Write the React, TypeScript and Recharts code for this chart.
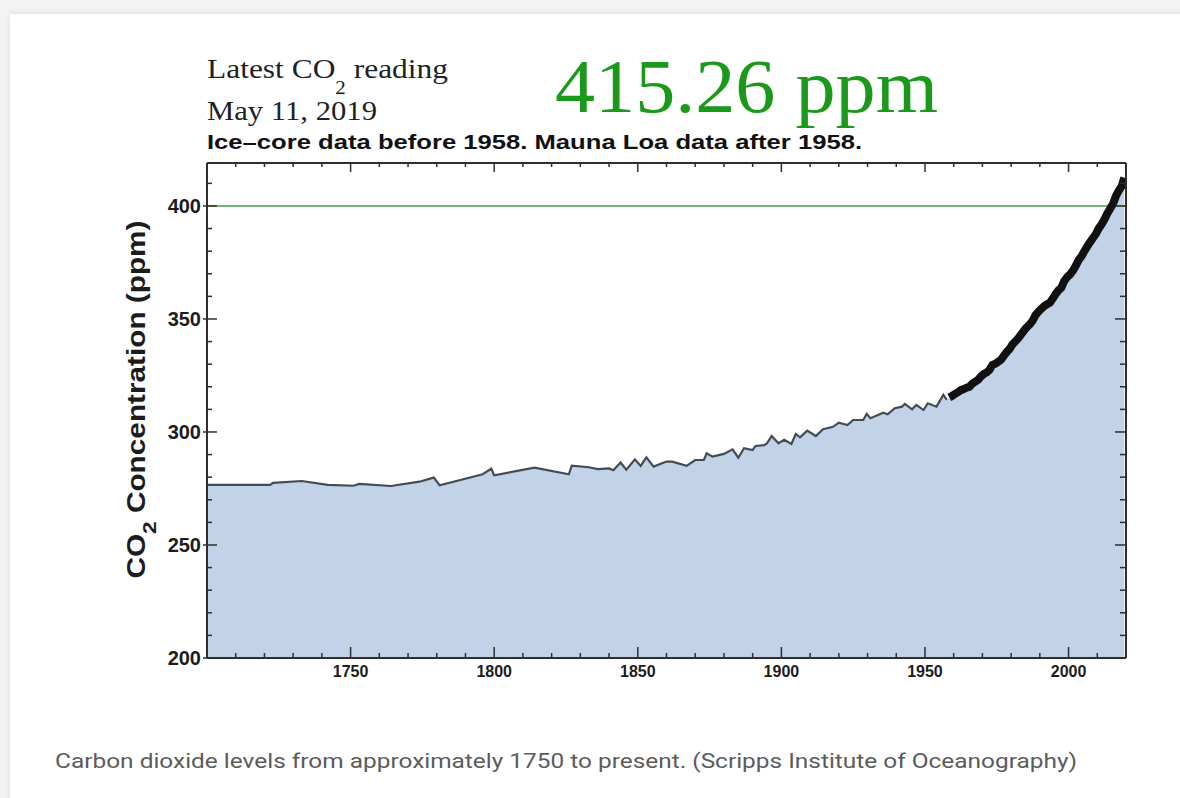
import React from 'react';
import { ComposedChart, Area, Line, XAxis, YAxis, ReferenceLine } from 'recharts';

// Ice-core record, year / ppm
const iceYears = [
  1700, 1722, 1723, 1733, 1742, 1751, 1753, 1764, 1774, 1779,
  1781, 1796, 1799, 1800, 1814, 1826, 1827, 1833, 1836, 1840,
  1841.5, 1844, 1846, 1849, 1851, 1853, 1855.5, 1860, 1862, 1867,
  1870, 1873, 1874, 1876, 1880, 1883, 1885, 1887, 1890, 1891,
  1894, 1895, 1896.6, 1899, 1901, 1903.5, 1905, 1906.5, 1909, 1912,
  1914.5, 1918, 1920, 1923, 1925, 1928.5, 1929.7, 1931, 1935.5, 1937,
  1939.5, 1942, 1943, 1945.5, 1947, 1949.5, 1951, 1954, 1956.4, 1957.6,
];
const icePpm = [
  276.6, 276.6, 277.5, 278.3, 276.6, 276.2, 277.0, 276.1, 278.0, 279.8,
  276.4, 281.3, 283.8, 280.8, 284.2, 281.3, 285.1, 284.4, 283.6, 283.9,
  283.1, 286.5, 283.3, 287.9, 285.0, 288.8, 284.7, 286.9, 286.9, 285.0,
  287.6, 287.6, 290.6, 289.1, 290.3, 292.3, 288.6, 292.8, 292.0, 293.8,
  294.2, 295.0, 298.2, 295.0, 296.5, 294.7, 299.1, 297.6, 300.6, 298.2,
  301.2, 302.3, 304.1, 303.1, 305.3, 305.3, 308.0, 306.1, 308.5, 307.8,
  310.5, 311.2, 312.4, 310.0, 312.0, 309.7, 312.7, 311.2, 316.4, 314.2,
];

// Mauna Loa yearly levels
const mloYears = [
  1958.5, 1959.5,
  1960.5, 1961.5, 1962.5, 1963.5, 1964.5, 1965.5, 1966.5, 1967.5, 1968.5, 1969.5,
  1970.5, 1971.5, 1972.5, 1973.5, 1974.5, 1975.5, 1976.5, 1977.5, 1978.5, 1979.5,
  1980.5, 1981.5, 1982.5, 1983.5, 1984.5, 1985.5, 1986.5, 1987.5, 1988.5, 1989.5,
  1990.5, 1991.5, 1992.5, 1993.5, 1994.5, 1995.5, 1996.5, 1997.5, 1998.5, 1999.5,
  2000.5, 2001.5, 2002.5, 2003.5, 2004.5, 2005.5, 2006.5, 2007.5, 2008.5, 2009.5,
  2010.5, 2011.5, 2012.5, 2013.5, 2014.5, 2015.5, 2016.5, 2017.5, 2018.5, 2019.4,
];
const mloPpm = [
  315.3, 316.0,
  316.9, 317.6, 318.5, 319.0, 319.6, 320.0, 321.4, 322.2, 323.1, 324.6,
  325.7, 326.3, 327.5, 329.7, 330.2, 331.1, 332.0, 333.8, 335.4, 336.8,
  338.8, 340.1, 341.5, 343.2, 344.9, 346.4, 347.6, 349.3, 351.7, 353.2,
  354.5, 355.7, 356.5, 357.2, 359.0, 361.0, 362.7, 363.9, 366.8, 368.5,
  369.7, 371.3, 373.5, 376.0, 377.7, 380.0, 382.1, 384.0, 385.8, 387.6,
  390.1, 391.9, 394.1, 396.7, 398.8, 401.0, 404.4, 406.8, 408.7, 412.5,
];

const xTicks = [
  1710, 1720, 1730, 1740, 1750, 1760, 1770, 1780, 1790, 1800,
  1810, 1820, 1830, 1840, 1850, 1860, 1870, 1880, 1890, 1900,
  1910, 1920, 1930, 1940, 1950, 1960, 1970, 1980, 1990, 2000, 2010,
];
const yTicks = [
  200, 210, 220, 230, 240, 250, 260, 270, 280, 290, 300,
  310, 320, 330, 340, 350, 360, 370, 380, 390, 400, 410,
];

const AXIS = '#2e2e2e';
const FILL = '#c3d3e7';
const SANS = '"Liberation Sans", Arial, Helvetica, sans-serif';
const SERIF = '"Liberation Serif", "Times New Roman", serif';

interface Row {
  year: number;
  level: number;
  ice?: number;
  mlo?: number;
}

const rows: Row[] = [
  ...iceYears.map((year, i) => ({ year, level: icePpm[i], ice: icePpm[i] })),
  ...mloYears.map((year, i) => ({ year, level: mloPpm[i], mlo: mloPpm[i] })),
];

const isMajor = (v: number) => v % 50 === 0;

function BottomTick({ x, y, payload }: any) {
  const major = isMajor(payload.value);
  return (
    <g>
      <line x1={x} x2={x} y1={y} y2={y - (major ? 11 : 5)} stroke={AXIS} strokeWidth={1.5} />
      {major && (
        <text x={x} y={y + 8} dy="0.71em" textAnchor="middle" fontSize={16} fontWeight="bold" fontFamily={SANS} fill="#1c1c1c">
          {payload.value}
        </text>
      )}
    </g>
  );
}

function TopTick({ x, y, payload }: any) {
  const major = isMajor(payload.value);
  return <line x1={x} x2={x} y1={y} y2={y + (major ? 9 : 4)} stroke={AXIS} strokeWidth={1.5} />;
}

function LeftTick({ x, y, payload }: any) {
  const major = isMajor(payload.value);
  return (
    <g>
      <line x1={major ? x - 4 : x} x2={x + (major ? 10 : 5)} y1={y} y2={y} stroke={AXIS} strokeWidth={1.5} />
      {major && (
        <text x={x - 6} y={y} dy="0.36em" textAnchor="end" fontSize={20} fontWeight="bold" fontFamily={SANS} fill="#1c1c1c">
          {payload.value}
        </text>
      )}
    </g>
  );
}

function RightTick({ x, y, payload }: any) {
  const major = isMajor(payload.value);
  return <line x1={x} x2={x - (major ? 11 : 6)} y1={y} y2={y} stroke={AXIS} strokeWidth={1.5} />;
}

function YLabel({ viewBox }: any) {
  const cx = viewBox.x + 38;
  const cy = viewBox.y + viewBox.height / 2 - 11;
  return (
    <text
      x={cx}
      y={cy}
      transform={`rotate(-90 ${cx} ${cy})`}
      textAnchor="middle"
      fontSize={25}
      fontWeight="bold"
      fontFamily={SANS}
      fill="#1c1c1c"
      textLength={358}
      lengthAdjust="spacingAndGlyphs"
    >
      CO<tspan dy={11} fontSize={19}>2</tspan>
      <tspan dy={-11}> Concentration (ppm)</tspan>
    </text>
  );
}

export default function App() {
  return (
    <div style={{ position: 'absolute', left: 0, top: 0, width: 1180, height: 798, background: '#f3f3f3', overflow: 'hidden' }}>
      <div
        style={{
          position: 'absolute', left: 10, top: 14, width: 1200, height: 820,
          background: '#fff', boxShadow: '0 0 7px rgba(0,0,0,0.10)',
        }}
      />
      <div style={{ position: 'absolute', left: 0, top: 0 }}>
        <ComposedChart
          width={1180}
          height={700}
          data={rows}
          margin={{ top: 162, right: 53, bottom: 12, left: 107 }}
        >
          <XAxis
            dataKey="year"
            type="number"
            domain={[1700, 2020]}
            ticks={xTicks}
            interval={0}
            height={30}
            tickSize={0}
            tickMargin={0}
            tickLine={false}
            axisLine={{ stroke: AXIS, strokeWidth: 2 }}
            tick={<BottomTick />}
            allowDataOverflow
          />
          {/* mirrored frame axes: 1px thick so they still render */}
          <XAxis
            xAxisId="top"
            orientation="top"
            dataKey="year"
            type="number"
            domain={[1700, 2020]}
            ticks={xTicks}
            interval={0}
            height={1}
            tickSize={0}
            tickMargin={0}
            tickLine={false}
            axisLine={{ stroke: AXIS, strokeWidth: 2 }}
            tick={<TopTick />}
            allowDataOverflow
          />
          <YAxis
            type="number"
            domain={[200, 419]}
            ticks={yTicks}
            interval={0}
            width={100}
            tickSize={0}
            tickMargin={0}
            tickLine={false}
            axisLine={{ stroke: AXIS, strokeWidth: 2 }}
            tick={<LeftTick />}
            label={<YLabel />}
            allowDataOverflow
          />
          <YAxis
            yAxisId="right"
            orientation="right"
            type="number"
            domain={[200, 419]}
            ticks={yTicks}
            interval={0}
            width={1}
            tickSize={0}
            tickMargin={0}
            tickLine={false}
            axisLine={{ stroke: AXIS, strokeWidth: 2 }}
            tick={<RightTick />}
            allowDataOverflow
          />
          <Area
            dataKey="level"
            type="linear"
            stroke="none"
            fill={FILL}
            fillOpacity={1}
            isAnimationActive={false}
          />
          <Line
            xAxisId="top"
            yAxisId="right"
            dataKey="level"
            stroke="none"
            dot={false}
            activeDot={false}
            isAnimationActive={false}
          />
          <ReferenceLine y={400} stroke="#449c44" strokeWidth={1.5} />
          <Line dataKey="ice" type="linear" stroke="#434b54" strokeWidth={2.2} dot={false} isAnimationActive={false} />
          <Line dataKey="mlo" type="linear" stroke="#111" strokeWidth={8} dot={false} isAnimationActive={false} />
        </ComposedChart>
      </div>
      <svg width={1180} height={798} style={{ position: 'absolute', left: 0, top: 0, pointerEvents: 'none' }}>
        <text x={207} y={78} fontFamily={SERIF} fontSize={27} fill="#1f1f1f" textLength={241} lengthAdjust="spacingAndGlyphs">
          Latest CO<tspan dy={16} fontSize={18}>2</tspan>
          <tspan dy={-16}> reading</tspan>
        </text>
        <text x={207} y={120} fontFamily={SERIF} fontSize={27} fill="#1f1f1f" textLength={170} lengthAdjust="spacingAndGlyphs">
          May 11, 2019
        </text>
        <text x={555} y={112} fontFamily={SERIF} fontSize={77} fill="#1a991a" textLength={383} lengthAdjust="spacingAndGlyphs">
          415.26 ppm
        </text>
        <text x={207} y={149} fontFamily={SANS} fontWeight="bold" fontSize={20.5} fill="#111" textLength={655} lengthAdjust="spacingAndGlyphs">
          Ice–core data before 1958. Mauna Loa data after 1958.
        </text>
        <text x={55} y={768} fontFamily="Roboto, sans-serif" fontSize={21} fill="#5b5b5b" textLength={1022} lengthAdjust="spacingAndGlyphs">
          Carbon dioxide levels from approximately 1750 to present. (Scripps Institute of Oceanography)
        </text>
      </svg>
    </div>
  );
}
